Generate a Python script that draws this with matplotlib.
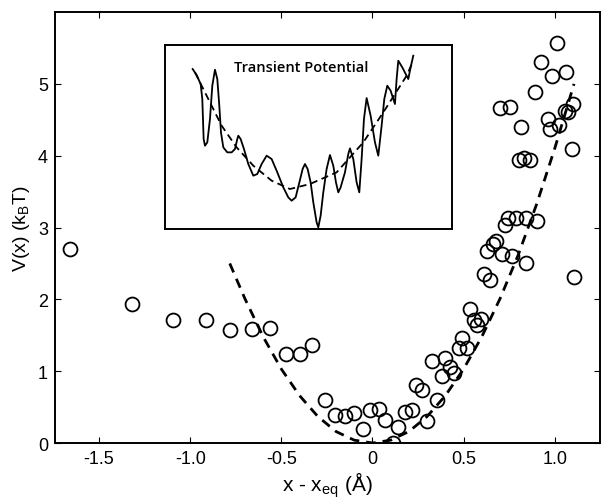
import matplotlib
matplotlib.use('Agg')
import matplotlib.pyplot as plt

plt.rcParams['font.family'] = ['Liberation Sans', 'DejaVu Sans']
plt.rcParams['mathtext.fontset'] = 'custom'
plt.rcParams['mathtext.rm'] = 'Liberation Sans'
plt.rcParams['mathtext.it'] = 'Liberation Sans'

# scatter points (x - x_eq in Angstrom, V in kBT)
pts_x = [-1.66, -1.318, -1.094, -0.916, -0.779, -0.661, -0.564, -0.476, -0.40, -0.33,
         -0.263, -0.204, -0.150, -0.099, -0.053, -0.011, 0.035, 0.071, 0.111, 0.142,
         0.179, 0.215, 0.239, 0.272, 0.30, 0.327, 0.352, 0.38, 0.40, 0.425,
         0.449, 0.473, 0.491, 0.516, 0.535, 0.559, 0.573, 0.595, 0.613, 0.644,
         0.626, 0.663, 0.677, 0.710, 0.728, 0.746, 0.768, 0.787, 0.842, 0.845,
         0.905, 0.805, 0.832, 0.865, 1.094, 1.106, 0.699, 0.757, 0.814, 0.893,
         0.927, 0.984, 1.015, 1.064, 0.964, 0.973, 1.024, 1.057, 1.075, 1.10]
pts_y = [2.70, 1.93, 1.71, 1.71, 1.57, 1.59, 1.60, 1.24, 1.24, 1.36,
         0.60, 0.39, 0.37, 0.42, 0.20, 0.46, 0.48, 0.32, 0.00, 0.22,
         0.43, 0.46, 0.81, 0.74, 0.31, 1.14, 0.60, 0.93, 1.19, 1.06,
         0.97, 1.32, 1.46, 1.32, 1.87, 1.71, 1.64, 1.73, 2.36, 2.27,
         2.67, 2.77, 2.81, 2.63, 3.03, 3.13, 2.60, 3.13, 3.13, 2.51,
         3.09, 3.94, 3.97, 3.94, 4.09, 2.31, 4.66, 4.68, 4.40, 4.89,
         5.30, 5.11, 5.57, 5.16, 4.51, 4.37, 4.43, 4.62, 4.61, 4.72]

# harmonic fit (dashed)
fit_x = [-0.783, -0.70, -0.60, -0.50, -0.40, -0.30, -0.20, -0.10, 0.0, 0.10,
         0.20, 0.30, 0.40, 0.50, 0.60, 0.70, 0.80, 0.90, 1.00, 1.106]
fit_y = [2.50, 2.01, 1.48, 1.03, 0.66, 0.37, 0.16, 0.04, 0.0, 0.04,
         0.16, 0.37, 0.66, 1.03, 1.48, 2.01, 2.62, 3.32, 4.10, 5.00]

tr_x = [83, 95, 107, 112, 114, 116, 120, 127, 135, 142,
        150, 157, 163, 168, 175, 187, 200, 210, 217, 220,
        227, 237, 250, 265, 277, 290, 305, 320, 335, 355,
        370, 380, 392, 402, 413, 420, 428, 437, 445, 455,
        460, 467, 475, 485, 495, 505, 513, 520, 527, 540,
        550, 555, 565, 575, 583, 590, 597, 605, 617, 630,
        640, 650, 658, 667, 677, 690, 695, 700, 712, 730,
        737, 745]
tr_y = [480, 462, 435, 390, 330, 270, 250, 260, 330, 430,
        478, 450, 370, 290, 245, 230, 230, 240, 270, 280,
        270, 240, 195, 160, 165, 195, 220, 210, 175, 125,
        95, 85, 95, 135, 180, 195, 180, 140, 80, 20,
        5, 40, 110, 180, 222, 190, 140, 110, 125, 170,
        225, 242, 210, 140, 110, 210, 330, 393, 340, 260,
        220, 310, 390, 430, 415, 375, 450, 505, 485, 450,
        485, 520]
avg_x = [90, 130, 170, 215, 265, 320, 375, 435, 515, 595, 655, 725, 745]
avg_y = [470, 390, 310, 245, 190, 145, 120, 135, 170, 260, 350, 460, 505]

fig = plt.figure(figsize=(6.01, 5.02), dpi=100)
ax = fig.add_axes([0.0915, 0.1155, 0.907, 0.8585])

ax.plot(pts_x, pts_y, 'o', mfc='none', mec='black', ms=10, mew=1.3)
ax.plot(fit_x, fit_y, color='black', lw=2, dashes=(3.5, 2.5))

ax.set_xlim(-1.742, 1.249)
ax.set_ylim(0, 6)
ax.set_xticks([-1.5, -1.0, -0.5, 0, 0.5, 1.0])
ax.set_xticklabels(['-1.5', '-1.0', '-0.5', '0', '0.5', '1.0'])
ax.set_yticks([0, 1, 2, 3, 4, 5])
ax.tick_params(direction='in', top=True, right=True, length=4, width=0.8,
               labelsize=13, pad=5)
for s in ax.spines.values():
    s.set_linewidth(1.4)
ax.set_xlabel('x - x$_{\\rm eq}$ (Å)', fontsize=15, labelpad=2)
ax.set_ylabel('V(x) (k$_{\\rm B}$T)', fontsize=14, labelpad=4)

# inset
ins = fig.add_axes([0.2745, 0.5418, 0.4775, 0.3665])
ins.plot(tr_x, tr_y, color='black', lw=1.3, solid_joinstyle='round')
ins.plot(avg_x, avg_y, color='black', lw=1.3, dashes=(4, 2.5))
ins.set_xlim(0, 861)
ins.set_ylim(0, 552)
ins.set_xticks([])
ins.set_yticks([])
for s in ins.spines.values():
    s.set_linewidth(1.4)
ins.text(410, 487, 'Transient Potential', ha='center', va='center',
         fontsize=10.5, family=['Open Sans', 'DejaVu Sans'], fontweight='semibold')

fig.savefig('out.png', dpi=100)
